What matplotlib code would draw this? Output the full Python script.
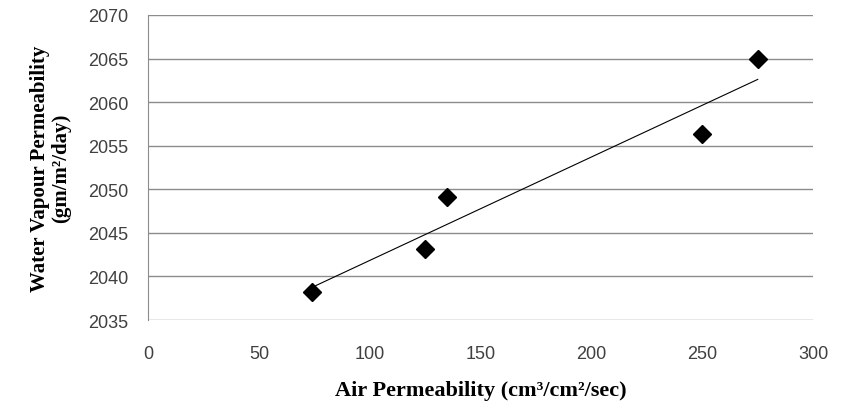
import numpy as np
import matplotlib.pyplot as plt

# Air permeability vs water vapour permeability
air_perm = [74, 125, 135, 250, 275]
wvp = [2038.2, 2043.2, 2049.1, 2056.3, 2065.0]

x_ticks = [0, 50, 100, 150, 200, 250, 300]
y_ticks = [2035, 2040, 2045, 2050, 2055, 2060, 2065, 2070]

fig = plt.figure(figsize=(8.43, 4.10), dpi=100)
ax = fig.add_axes([0.1756, 0.217, 0.789, 0.744])

# horizontal gridlines only
for yv in y_ticks:
    ax.axhline(yv, color="#8c8c8c", linewidth=1.0, zorder=0)

# linear trendline over data range
slope, intercept = np.polyfit(air_perm, wvp, 1)
xs = np.array([min(air_perm), max(air_perm)])
ax.plot(xs, slope * xs + intercept, color="black", linewidth=0.8, zorder=2)

ax.plot(air_perm, wvp, linestyle="none", marker="D", markersize=9.5,
        color="black", zorder=3)

ax.set_xlim(0, 300)
ax.set_ylim(2035, 2070)
ax.set_xticks(x_ticks)
ax.set_yticks(y_ticks)
ax.tick_params(length=0, labelsize=13, labelcolor="#404040")
ax.tick_params(axis="y", pad=14)
ax.tick_params(axis="x", pad=18)
for lbl in ax.get_xticklabels() + ax.get_yticklabels():
    lbl.set_family("Liberation Sans")

for s in ["top", "right", "bottom"]:
    ax.spines[s].set_visible(False)
ax.spines["left"].set_color("#8c8c8c")

ax.set_xlabel("Air Permeability (cm³/cm²/sec)", family="Liberation Serif",
              fontweight="bold", fontsize=16, labelpad=13)
ax.set_ylabel("Water Vapour Permeability\n(gm/m²/day)", family="Liberation Serif",
              fontweight="bold", fontsize=15, labelpad=12, linespacing=1.1)

fig.savefig("out.png", dpi=100)
